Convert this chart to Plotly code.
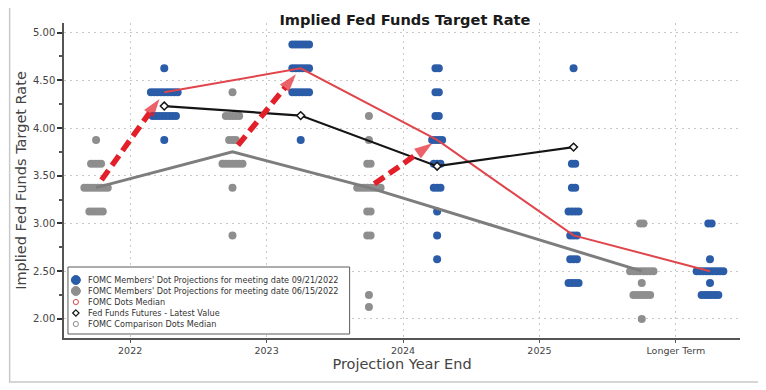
import plotly.graph_objects as go

# ---------------- data ----------------
categories = ["2022", "2023", "2024", "2025", "Longer Term"]

# FOMC dots, meeting 09/21/2022 (rate levels and number of participants)
sep_rates = [
    [3.875, 4.125, 4.375, 4.625],
    [3.875, 4.375, 4.625, 4.875],
    [2.625, 2.875, 3.125, 3.375, 3.625, 3.875, 4.125, 4.375, 4.625],
    [2.375, 2.625, 2.875, 3.125, 3.375, 3.625, 4.625],
    [2.25, 2.375, 2.5, 2.625, 3.0],
]
sep_counts = [
    [1, 8, 9, 1],
    [1, 6, 6, 6],
    [1, 1, 1, 3, 3, 4, 2, 2, 2],
    [4, 3, 3, 4, 2, 2, 1],
    [6, 1, 9, 1, 2],
]

# FOMC dots, meeting 06/15/2022
jun_rates = [
    [3.125, 3.375, 3.625, 3.875],
    [2.875, 3.375, 3.625, 3.875, 4.125, 4.375],
    [2.125, 2.25, 2.875, 3.125, 3.375, 3.625, 3.875, 4.125],
    [],
    [2.0, 2.25, 2.375, 2.5, 3.0],
]
jun_counts = [
    [5, 8, 4, 1],
    [1, 1, 7, 3, 5, 1],
    [1, 1, 2, 2, 8, 2, 1, 1],
    [],
    [1, 6, 1, 8, 2],
]

sep_median = [4.375, 4.625, 3.875, 2.875, 2.5]
jun_median = [3.375, 3.75, 3.375, None, 2.5]
futures = [4.23, 4.13, 3.60, 3.80]
arrow_categories = [0, 1, 2]

legend_names = [
    "FOMC Members' Dot Projections for meeting date 09/21/2022",
    "FOMC Members' Dot Projections for meeting date 06/15/2022",
    "FOMC Dots Median",
    "Fed Funds Futures - Latest Value",
    "FOMC Comparison Dots Median",
]

# ---------------- style ----------------
BLUE = "#2b5ca8"
GRAY = "#8e8e8e"
RED_LINE = "#e0454b"
RED_ARROW = "#e3202a"
BLACK = "#151515"
GRAY_LINE = "#7d7d7d"
FONT = "DejaVu Sans"
SHIFT = 0.25
STEP = 0.0245

# page has an 8px body margin: the figure is 8px smaller and all pixel
# positions are expressed in page coordinates converted to paper fractions
OFF = 8
W, H = 766 - OFF, 390 - OFF
L, R, T, B = 56 - OFF, 26, 23 - OFF, 52
pw, ph = W - L - R, H - T - B


def px_x(page_x):
    return (page_x - OFF - L) / pw


def px_y(page_y):
    return (H - B - (page_y - OFF)) / ph


def dot_xy(rates, counts, shift):
    xs, ys = [], []
    for i, (rs, cs) in enumerate(zip(rates, counts)):
        for r, c in zip(rs, cs):
            for k in range(c):
                xs.append(i + shift + (k - (c - 1) / 2) * STEP)
                ys.append(r)
    return xs, ys


fig = go.Figure()

# dots
gx, gy = dot_xy(jun_rates, jun_counts, -SHIFT)
fig.add_trace(go.Scatter(x=gx, y=gy, mode="markers", name=legend_names[1], showlegend=False,
                         marker=dict(color=GRAY, size=8, line=dict(width=0))))
bx, by = dot_xy(sep_rates, sep_counts, SHIFT)
fig.add_trace(go.Scatter(x=bx, y=by, mode="markers", name=legend_names[0], showlegend=False,
                         marker=dict(color=BLUE, size=8, line=dict(width=0))))

# median lines
fig.add_trace(go.Scatter(x=[i - SHIFT for i in range(len(categories))], y=jun_median,
                         mode="lines", connectgaps=True, name=legend_names[4], showlegend=False,
                         line=dict(color=GRAY_LINE, width=3)))
fig.add_trace(go.Scatter(x=[i + SHIFT for i in range(len(categories))], y=sep_median,
                         mode="lines", name=legend_names[2], showlegend=False,
                         line=dict(color=RED_LINE, width=2)))
fig.add_trace(go.Scatter(x=[i + SHIFT for i in range(len(futures))], y=futures,
                         mode="lines+markers", name=legend_names[3], showlegend=False,
                         line=dict(color=BLACK, width=2.2),
                         marker=dict(symbol="diamond", size=6, color="white",
                                     line=dict(color=BLACK, width=1.5))))

# dashed arrows from June median to September median
for i in arrow_categories:
    x0, y0 = i - SHIFT, jun_median[i]
    x1, y1 = i + SHIFT, sep_median[i]
    fs, fe = 0.08, 0.93
    fig.add_trace(go.Scatter(
        x=[x0 + fs * (x1 - x0), x0 + fe * (x1 - x0)],
        y=[y0 + fs * (y1 - y0), y0 + fe * (y1 - y0)],
        mode="lines+markers", showlegend=False, hoverinfo="skip",
        line=dict(color=RED_ARROW, width=5.5, dash="12px,6px"),
        marker=dict(symbol=["circle", "arrow"], size=[0, 19], color=RED_ARROW,
                    angleref="previous", line=dict(width=0)),
    ))

# outer frame
fig.add_shape(type="rect", xref="paper", yref="paper",
              x0=px_x(1), x1=px_x(762), y0=px_y(382), y1=px_y(7),
              line=dict(color="#c9c9c9", width=1.5), fillcolor="rgba(0,0,0,0)", layer="below")

# ---------------- legend box (compact, as in the original) ----------------
fig.add_shape(type="rect", xref="paper", yref="paper", layer="above",
              x0=px_x(60), x1=px_x(345), y0=px_y(334), y1=px_y(267),
              line=dict(color="#5a5a5a", width=1), fillcolor="white")
legend_symbols = [
    dict(kind="circle", r=4.5, fill=BLUE, line=BLUE),
    dict(kind="circle", r=4.5, fill=GRAY, line=GRAY),
    dict(kind="circle", r=2.6, fill="white", line=RED_LINE),
    dict(kind="diamond", r=3.2, fill="white", line=BLACK),
    dict(kind="circle", r=2.6, fill="white", line=GRAY),
]
row0, row_gap, sym_x, text_x = 280, 11, 68, 78
for k, (name, sym) in enumerate(zip(legend_names, legend_symbols)):
    yrow = row0 + k * row_gap
    r = sym["r"]
    if sym["kind"] == "circle":
        fig.add_shape(type="circle", xref="paper", yref="paper", layer="above",
                      xsizemode="pixel", ysizemode="pixel",
                      xanchor=px_x(sym_x), yanchor=px_y(yrow),
                      x0=-r, x1=r, y0=-r, y1=r,
                      fillcolor=sym["fill"], line=dict(color=sym["line"], width=1))
    else:
        fig.add_shape(type="path", xref="paper", yref="paper", layer="above",
                      xsizemode="pixel", ysizemode="pixel",
                      xanchor=px_x(sym_x), yanchor=px_y(yrow),
                      path=f"M0,{r} L{r},0 L0,{-r} L{-r},0 Z",
                      fillcolor=sym["fill"], line=dict(color=sym["line"], width=1.2))
    fig.add_annotation(text=name, xref="paper", yref="paper", x=px_x(text_x), y=px_y(yrow),
                       xanchor="left", yanchor="middle", showarrow=False,
                       font=dict(family=FONT, size=8.15, color="#333333"))

fig.update_layout(
    width=W, height=H,
    margin=dict(l=L, r=R, t=T, b=B),
    paper_bgcolor="white", plot_bgcolor="white",
    font=dict(family=FONT, color="#3a3a3a"),
    title=dict(text="<b>Implied Fed Funds Target Rate</b>", x=px_x(401), xref="paper",
               xanchor="center", y=1 - (20 - OFF) / H, yref="container", yanchor="middle",
               font=dict(family=FONT, size=14.6, color="#1a1a1a")),
    showlegend=False,
    xaxis=dict(
        range=[-0.485, 4.47], tickmode="array", tickvals=list(range(len(categories))),
        ticktext=categories, showgrid=True, griddash="2px,4px", gridcolor="#c8c8c8", gridwidth=1,
        zeroline=False, showline=True, linecolor="#555555", linewidth=1.5,
        ticks="outside", ticklen=3, tickcolor="#555555",
        tickfont=dict(family=FONT, size=9.5, color="#444444"),
        title=dict(text="Projection Year End", standoff=4,
                   font=dict(family=FONT, size=14.5, color="#444444")),
    ),
    yaxis=dict(
        range=[1.8, 5.1], tick0=2, dtick=0.5, tickformat=".2f",
        showgrid=True, griddash="2px,4px", gridcolor="#c8c8c8", gridwidth=1,
        zeroline=False, showline=True, linecolor="#555555", linewidth=1.5,
        ticks="outside", ticklen=5, tickwidth=2, tickcolor="#333333",
        minor=dict(ticks="outside", ticklen=3, dtick=0.25, tick0=2, tickcolor="#555555", showgrid=False),
        tickfont=dict(family=FONT, size=10, color="#444444"),
        title=dict(text="Implied Fed Funds Target Rate", standoff=3,
                   font=dict(family=FONT, size=14.5, color="#444444")),
    ),
)

fig.write_html("out.html")
